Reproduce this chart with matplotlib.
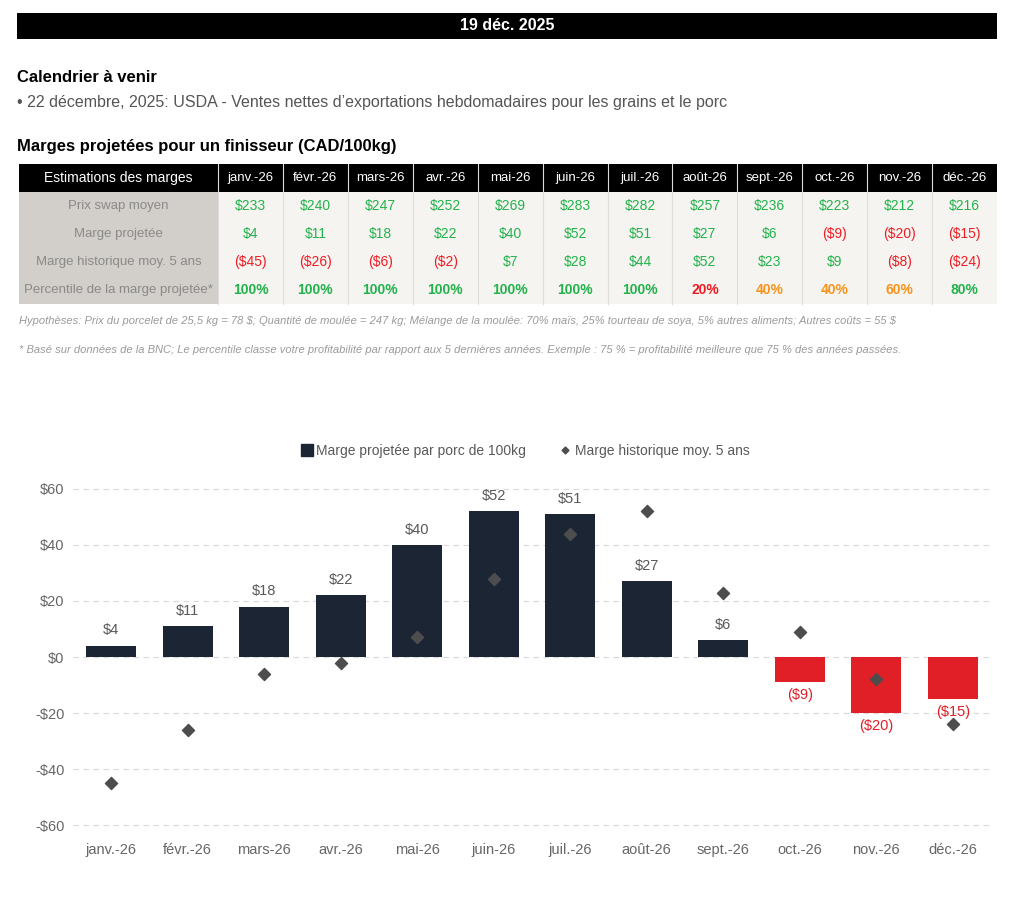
import matplotlib
matplotlib.use("Agg")
import matplotlib.pyplot as plt
from matplotlib.patches import Rectangle
from matplotlib.lines import Line2D

plt.rcParams['text.parse_math'] = False

months = ['janv.-26', 'févr.-26', 'mars-26', 'avr.-26', 'mai-26', 'juin-26',
          'juil.-26', 'août-26', 'sept.-26', 'oct.-26', 'nov.-26', 'déc.-26']
swap_price = [233, 240, 247, 252, 269, 283, 282, 257, 236, 223, 212, 216]
proj_margin = [4, 11, 18, 22, 40, 52, 51, 27, 6, -9, -20, -15]
hist_margin = [-45, -26, -6, -2, 7, 28, 44, 52, 23, 9, -8, -24]
percentile = [100, 100, 100, 100, 100, 100, 100, 20, 40, 40, 60, 80]
row_labels = ['Prix swap moyen', 'Marge projetée', 'Marge historique moy. 5 ans',
              'Percentile de la marge projetée*']
yticks = [-60, -40, -20, 0, 20, 40, 60]

SANS = ['Liberation Sans', 'DejaVu Sans']

W, H = 1024, 910
fig = plt.figure(figsize=(W / 100, H / 100), dpi=100)
fig.patch.set_facecolor('white')


def fx(x):
    return x / W


def fy(y):
    return 1 - y / H


def rect(x0, y0, x1, y1, color, ec='none', lw=0):
    fig.add_artist(Rectangle((fx(x0), fy(y1)), fx(x1) - fx(x0), fy(y0) - fy(y1),
                             transform=fig.transFigure, facecolor=color,
                             edgecolor=ec, linewidth=lw))


GREEN = '#22b24c'
RED = '#ee1c25'
ORANGE = '#f7941d'

# header bar
rect(17, 13, 997, 39, 'black')
fig.text(fx(507), fy(26), '19 déc. 2025', color='white', fontsize=11.5,
         fontweight='bold', ha='center', va='center', family=SANS)

fig.text(fx(17), fy(78), 'Calendrier à venir', color='black', fontsize=12,
         fontweight='bold', ha='left', va='center', family=SANS)
fig.text(fx(17), fy(103),
         '• 22 décembre, 2025: USDA - Ventes nettes d\u2019exportations hebdomadaires pour les grains et le porc',
         color='#555555', fontsize=11.5, ha='left', va='center', family=SANS)
fig.text(fx(17), fy(146), 'Marges projetées pour un finisseur (CAD/100kg)',
         color='black', fontsize=12, fontweight='bold', ha='left', va='center',
         family=SANS)

# table
x_first0, x_first1, x_end = 19, 218, 997
ncol = len(months)
cw = (x_end - x_first1) / ncol
y_head0, y_head1 = 164, 192
rh = 28
rect(x_first0, y_head0, x_end, y_head1, 'black')
rect(x_first0, y_head1, x_first1, y_head1 + 4 * rh, '#d2cec9')
rect(x_first1, y_head1, x_end, y_head1 + 4 * rh, '#f6f4f0')
fig.text(fx((x_first0 + x_first1) / 2), fy((y_head0 + y_head1) / 2),
         'Estimations des marges', color='white', fontsize=10,
         ha='center', va='center', family=SANS)
for i, m in enumerate(months):
    cx = x_first1 + cw * (i + 0.5)
    fig.text(fx(cx), fy((y_head0 + y_head1) / 2), m, color='white',
             fontsize=9.5, ha='center', va='center', family=SANS)
    x_sep = x_first1 + cw * i
    fig.add_artist(Line2D([fx(x_sep), fx(x_sep)], [fy(y_head0), fy(y_head1 + 4 * rh)],
                          transform=fig.transFigure, color='#dddddd', lw=0.8))
for r, lab in enumerate(row_labels):
    cy = y_head1 + rh * (r + 0.5)
    fig.text(fx((x_first0 + x_first1) / 2), fy(cy), lab, color='#8a8a8a',
             fontsize=9.5, ha='center', va='center', family=SANS)


def money(v):
    return f'${v}' if v >= 0 else f'(${-v})'


def pct_color(p):
    if p >= 80:
        return GREEN
    if p >= 40:
        return ORANGE
    return RED


for i in range(ncol):
    cx = x_first1 + cw * (i + 0.5)
    vals = [
        (money(swap_price[i]), GREEN, 'normal'),
        (money(proj_margin[i]), GREEN if proj_margin[i] >= 0 else RED, 'normal'),
        (money(hist_margin[i]), GREEN if hist_margin[i] >= 0 else RED, 'normal'),
        (f'{percentile[i]}%', pct_color(percentile[i]), 'bold'),
    ]
    for r, (t, c, w) in enumerate(vals):
        cy = y_head1 + rh * (r + 0.5)
        fig.text(fx(cx), fy(cy), t, color=c, fontsize=10, fontweight=w,
                 ha='center', va='center', family=SANS)

fig.text(fx(19), fy(321),
         'Hypothèses: Prix du porcelet de 25,5 kg = 78 $; Quantité de moulée = 247 kg; '
         'Mélange de la moulée: 70% maïs, 25% tourteau de soya, 5% autres aliments; Autres coûts = 55 $',
         color='#9a9a9a', fontsize=8, style='italic', ha='left', va='center',
         family=SANS)
fig.text(fx(19), fy(350),
         '* Basé sur données de la BNC; Le percentile classe votre profitabilité par rapport aux '
         '5 dernières années. Exemple : 75 % = profitabilité meilleure que 75 % des années passées.',
         color='#9a9a9a', fontsize=8, style='italic', ha='left', va='center',
         family=SANS)

# chart
ax_l, ax_r = 73, 991
ax_t, ax_b = 472, 842
ax = fig.add_axes([fx(ax_l), fy(ax_b), fx(ax_r) - fx(ax_l), fy(ax_t) - fy(ax_b)])
ax.set_facecolor('white')
x = list(range(ncol))
bar_colors = ['#1c2533' if v >= 0 else '#e01f26' for v in proj_margin]
ax.bar(x, proj_margin, width=0.65, color=bar_colors, zorder=2)
ax.scatter(x, hist_margin, marker='D', s=38, color='#4d4d4d', zorder=3)
for i, v in enumerate(proj_margin):
    if v >= 0:
        ax.annotate(money(v), (i, v), xytext=(0, 6), textcoords='offset points',
                    ha='center', va='bottom', fontsize=10.5, color='#595959',
                    family=SANS)
    else:
        ax.annotate(money(v), (i, v), xytext=(0, -4), textcoords='offset points',
                    ha='center', va='top', fontsize=10.5, color='#e01f26',
                    family=SANS)
ax.set_xlim(-0.5, ncol - 0.5)
ax.set_ylim(-66, 66)
ax.set_yticks(yticks)
ax.set_yticklabels([f'${v}' if v >= 0 else f'-${-v}' for v in yticks])
ax.set_xticks(x)
ax.set_xticklabels(months)
ax.grid(axis='y', color='#d9d9d9', linestyle=(0, (5, 4)), lw=0.8, zorder=0)
for s in ax.spines.values():
    s.set_visible(False)
ax.tick_params(length=0, colors='#666666', labelsize=10.5)
ax.tick_params(axis='x', pad=1)
ax.tick_params(axis='y', pad=6)
for t in ax.get_xticklabels() + ax.get_yticklabels():
    t.set_family(SANS)

handles = [
    Line2D([], [], marker='s', linestyle='none', color='#1c2533', markersize=8),
    Line2D([], [], marker='D', linestyle='none', color='#4d4d4d', markersize=3.5),
]
leg = fig.legend(handles, ['Marge projetée par porc de 100kg', 'Marge historique moy. 5 ans'],
                 loc='center', bbox_to_anchor=(fx(524), fy(451)), ncol=2, frameon=False,
                 handletextpad=0.1, columnspacing=2.2, handlelength=1.2,
                 prop={'family': SANS, 'size': 10})
for t in leg.get_texts():
    t.set_color('#595959')

fig.savefig('out.png', dpi=100, facecolor='white')
